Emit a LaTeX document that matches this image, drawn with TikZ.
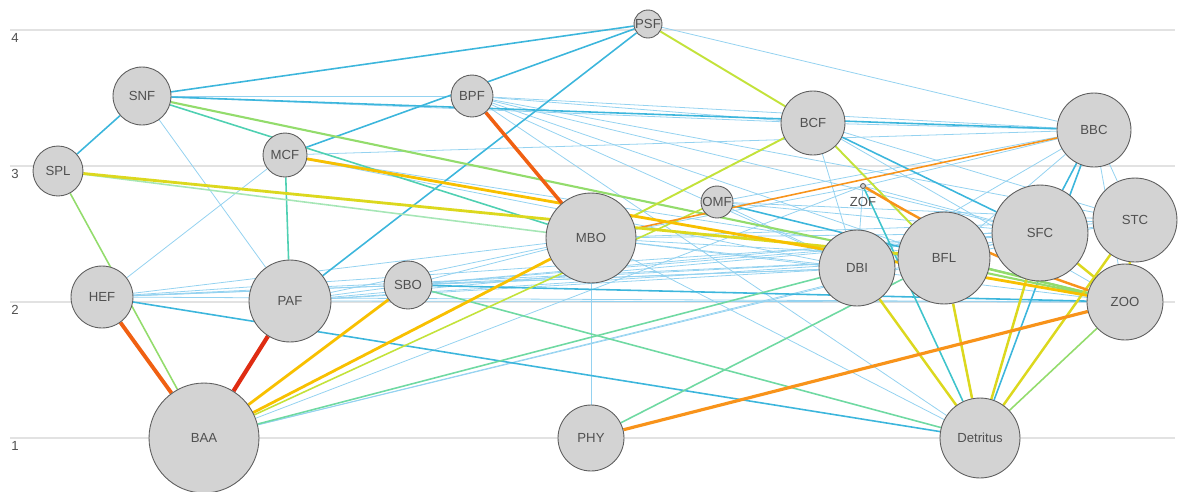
\documentclass[tikz,border=0pt]{standalone}
\usepackage{fontspec}
\setmainfont{Liberation Sans}
\usetikzlibrary{backgrounds}
\definecolor{gris}{HTML}{D3D3D3}
\definecolor{bord}{HTML}{5E5E5E}
\definecolor{texte}{HTML}{505050}
\definecolor{grisgrille}{HTML}{E2E2E2}
\definecolor{bleuclair}{HTML}{94D2F0}
\definecolor{bleu}{HTML}{3CB6DC}
\definecolor{sarcelle}{HTML}{3FC4CC}
\definecolor{vertbleu}{HTML}{4FD0B2}
\definecolor{vert}{HTML}{6FD9A2}
\definecolor{vertclair}{HTML}{93DC6C}
\definecolor{vertpale}{HTML}{A6E6B6}
\definecolor{jaunevert}{HTML}{C3E23A}
\definecolor{jaune}{HTML}{DCD81E}
\definecolor{dore}{HTML}{F8C000}
\definecolor{orangevif}{HTML}{F8931A}
\definecolor{rougeorange}{HTML}{F06012}
\definecolor{rouge}{HTML}{DF2C12}

\begin{document}
\begin{tikzpicture}[x=0.02cm,y=-0.02cm]
% Styles
\tikzstyle{noeud}=[circle,fill=gris,draw=bord,line width=0.5pt,inner sep=0pt]
\tikzstyle{etiq}=[text=texte,font=\fontsize{7.5}{9}\selectfont,inner sep=0pt]
\tikzstyle{grille}=[draw=grisgrille,line width=0.6pt]
\tikzstyle{fin}=[draw=bleuclair,line width=0.45pt]
\tikzstyle{moyen}=[line width=0.9pt]
\tikzstyle{epais}=[line width=1.6pt]
\tikzstyle{tresepais}=[line width=2.4pt]
% Dimensions
\def\Ech{0.04cm}
\useasboundingbox (0,0) rectangle (1178,491);
% Noeuds
\node[noeud,minimum size=14*\Ech,label={[etiq]center:PSF}] (PSF) at (648,24) {};
\node[noeud,minimum size=29*\Ech,label={[etiq]center:SNF}] (SNF) at (142,96) {};
\node[noeud,minimum size=21*\Ech,label={[etiq]center:BPF}] (BPF) at (472,96) {};
\node[noeud,minimum size=22*\Ech,label={[etiq]center:MCF}] (MCF) at (285,155) {};
\node[noeud,minimum size=25*\Ech,label={[etiq]center:SPL}] (SPL) at (58,171) {};
\node[noeud,minimum size=32*\Ech,label={[etiq]center:BCF}] (BCF) at (813,123) {};
\node[noeud,minimum size=37*\Ech,label={[etiq]center:BBC}] (BBC) at (1094,130) {};
\node[noeud,minimum size=16*\Ech,label={[etiq]center:OMF}] (OMF) at (717,202) {};
\node[noeud,minimum size=2.5*\Ech] (ZOF) at (863,186) {};
\node[etiq] (ZOFetiq) at (863,202) {ZOF};
\node[noeud,minimum size=45*\Ech,label={[etiq]center:MBO}] (MBO) at (591,238) {};
\node[noeud,minimum size=38*\Ech,label={[etiq]center:DBI}] (DBI) at (857,268) {};
\node[noeud,minimum size=46*\Ech,label={[etiq]center:BFL}] (BFL) at (944,258) {};
\node[noeud,minimum size=48*\Ech,label={[etiq]center:SFC}] (SFC) at (1040,233) {};
\node[noeud,minimum size=42*\Ech,label={[etiq]center:STC}] (STC) at (1135,220) {};
\node[noeud,minimum size=31*\Ech,label={[etiq]center:HEF}] (HEF) at (102,297) {};
\node[noeud,minimum size=41*\Ech,label={[etiq]center:PAF}] (PAF) at (290,301) {};
\node[noeud,minimum size=24*\Ech,label={[etiq]center:SBO}] (SBO) at (408,285) {};
\node[noeud,minimum size=38*\Ech,label={[etiq]center:ZOO}] (ZOO) at (1125,302) {};
\node[noeud,minimum size=55*\Ech,label={[etiq]center:BAA}] (BAA) at (204,438) {};
\node[noeud,minimum size=33*\Ech,label={[etiq]center:PHY}] (PHY) at (591,438) {};
\node[noeud,minimum size=40*\Ech,label={[etiq]center:Detritus}] (Det) at (980,438) {};
\begin{scope}[on background layer]
% Grille
\foreach \v/\y in {4/30,3/166,2/302,1/438} {
  \draw[grille] (10,\y)--(1175,\y);
  \node[etiq] (axe\v) at (15,\y+8) {\v};
}
% Arcs fins
\draw[fin] (SNF)--(PAF);
\draw[fin] (SNF)--(BPF);
\draw[fin] (SNF)--(BCF);
\draw[fin] (HEF)--(MCF);
\draw[fin] (HEF)--(SBO);
\draw[fin] (HEF)--(MBO);
\draw[fin] (HEF)--(DBI);
\draw[fin] (HEF)--(BFL);
\draw[fin] (HEF)--(SFC);
\draw[fin] (HEF)--(ZOO);
\draw[fin] (PAF)--(SBO);
\draw[fin] (PAF)--(MBO);
\draw[fin] (PAF)--(DBI);
\draw[fin] (PAF)--(BFL);
\draw[fin] (PAF)--(SFC);
\draw[fin] (PAF)--(ZOO);
\draw[fin] (SBO)--(MBO);
\draw[fin] (SBO)--(DBI);
\draw[fin] (SBO)--(BFL);
\draw[fin] (SBO)--(SFC);
\draw[fin] (SBO)--(STC);
\draw[fin] (MCF)--(BBC);
\draw[fin] (MCF)--(BFL);
\draw[fin] (MCF)--(DBI);
\draw[fin] (BPF)--(BCF);
\draw[fin] (BPF)--(BBC);
\draw[fin] (BPF)--(DBI);
\draw[fin] (BPF)--(BFL);
\draw[fin] (BPF)--(SFC);
\draw[fin] (BPF)--(STC);
\draw[fin] (BPF)--(Det);
\draw[fin] (PSF)--(BBC);
\draw[fin] (BCF)--(BBC);
\draw[fin] (BCF)--(STC);
\draw[fin] (BCF)--(ZOO);
\draw[fin] (BCF)--(DBI);
\draw[fin] (MBO)--(DBI);
\draw[fin] (MBO)--(BFL);
\draw[fin] (MBO)--(SFC);
\draw[fin] (MBO)--(STC);
\draw[fin] (MBO)--(ZOO);
\draw[fin] (MBO)--(ZOF);
\draw[fin] (MBO)--(PHY);
\draw[fin] (MBO)--(Det);
\draw[fin] (OMF)--(BBC);
\draw[fin] (OMF)--(SFC);
\draw[fin] (OMF)--(STC);
\draw[fin] (OMF)--(DBI);
\draw[fin] (ZOF)--(DBI);
\draw[fin] (ZOF)--(SFC);
\draw[fin] (ZOF)--(BBC);
\draw[fin] (DBI)--(BBC);
\draw[fin] (DBI)--(STC);
\draw[fin] (DBI)--(SFC);
\draw[fin] (BFL)--(BBC);
\draw[fin] (BFL)--(STC);
\draw[fin] (BBC)--(STC);
\draw[fin] (BBC)--(ZOO);
\draw[fin] (BAA)--(ZOF);
\draw[fin] (BAA)--(SFC);
\draw[fin] (BAA)--(BFL);
% Arcs moyens
\draw[moyen,bleu] (PSF)--(SNF);
\draw[moyen,bleu] (PSF)--(MCF);
\draw[moyen,bleu] (PSF)--(PAF);
\draw[moyen,bleu] (SNF)--(SPL);
\draw[moyen,bleu] (SNF)--(BBC);
\draw[moyen,bleu] (HEF)--(Det);
\draw[moyen,bleu] (SBO)--(ZOO);
\draw[moyen,bleu] (BBC)--(Det);
\draw[moyen,bleu] (BBC)--(SFC);
\draw[moyen,bleu] (OMF)--(ZOO);
\draw[moyen,bleu] (BCF)--(SFC);
\draw[moyen,sarcelle] (ZOF)--(Det);
\draw[moyen,vertbleu] (SNF)--(MBO);
\draw[moyen,vertbleu] (MCF)--(PAF);
\draw[moyen,vert] (BAA)--(DBI);
\draw[moyen,vert] (PHY)--(BFL);
\draw[moyen,vert] (SBO)--(Det);
\draw[moyen,vertpale] (SPL)--(MBO);
\draw[moyen,vertclair,line width=1.2pt] (SNF)--(ZOO);
\draw[moyen,vertclair] (SPL)--(BAA);
\draw[moyen,vertclair] (Det)--(ZOO);
\draw[moyen,vertclair,line width=1.4pt] (BFL)--(ZOO);
\draw[moyen,jaunevert] (BAA)--(OMF);
\draw[moyen,jaunevert,line width=1.1pt] (PSF)--(BCF);
\draw[moyen,jaunevert,line width=1.1pt] (BCF)--(MBO);
\draw[moyen,jaunevert,line width=1.1pt] (BCF)--(BFL);
\draw[moyen,orangevif] (BBC)--(MBO);
% Arcs epais
\draw[epais,jaune] (SPL)--(BFL);
\draw[epais,jaune,line width=1.4pt] (DBI)--(Det);
\draw[epais,jaune,line width=1.4pt] (BFL)--(Det);
\draw[epais,jaune,line width=1.4pt] (SFC)--(Det);
\draw[epais,jaune,line width=1.4pt] (STC)--(Det);
\draw[epais,jaune,line width=1.4pt] (STC)--(ZOO);
\draw[epais,jaune,line width=1.4pt] (SFC)--(ZOO);
\draw[epais,dore] (MCF)--(ZOO);
\draw[epais,dore] (BAA)--(MBO);
\draw[epais,dore] (BAA)--(SBO);
\draw[epais,orangevif,line width=1.4pt] (ZOF) to[bend right=6] (ZOO);
\draw[epais,orangevif,line width=1.8pt] (PHY)--(ZOO);
\draw[tresepais,rougeorange,line width=2pt] (BPF)--(MBO);
\draw[tresepais,rougeorange,line width=2.2pt] (HEF)--(BAA);
\draw[tresepais,rouge] (PAF)--(BAA);
\end{scope}
\end{tikzpicture}
\end{document}
